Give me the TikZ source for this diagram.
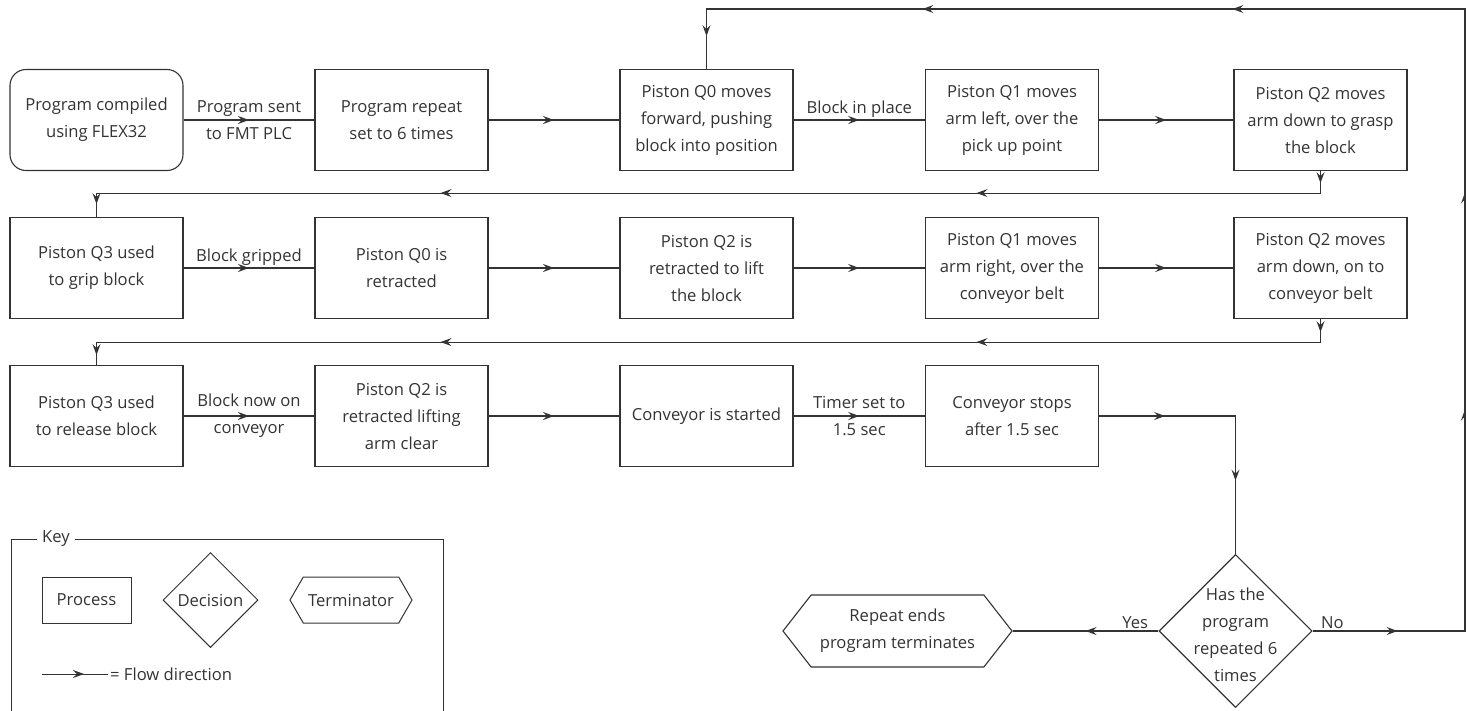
\documentclass[tikz,border=0pt]{standalone}
\usepackage{fontspec}
\setmainfont{Open Sans}
\usetikzlibrary{arrows.meta,positioning,shapes.geometric,shapes.symbols,decorations.markings}
\definecolor{flowgray}{HTML}{333333}
\newcommand{\flowfont}{\fontsize{16.6}{27}\selectfont}
\tikzset{
  flowtip/.tip={Stealth[length=11pt,width=8pt,inset=4pt]},
  flowline/.style={draw=flowgray, line width=1.1pt},
  tipat/.style={postaction={decorate, decoration={markings, mark=at position #1 with {\arrow{flowtip}}}}},
  process/.style={draw=flowgray, line width=1.1pt, minimum width=173pt, minimum height=101pt, inner sep=0pt, align=center, font=\flowfont, text=flowgray},
  startbox/.style={process, rounded corners=16pt},
  decision/.style={draw=flowgray, line width=1.1pt, diamond, aspect=1, minimum size=153pt, inner sep=0pt, align=center, font=\flowfont, text=flowgray},
  terminator/.style={draw=flowgray, line width=1.1pt, signal, signal to=west and east, signal pointer angle=104, minimum width=229pt, minimum height=72pt, inner sep=0pt, align=center, font=\flowfont, text=flowgray},
  edgetext/.style={font=\flowfont, text=flowgray, align=center, inner sep=2pt},
  keyframe/.style={draw=flowgray, line width=1pt}
}
\begin{document}
\begin{tikzpicture}[x=1pt, y=-1pt]
  \useasboundingbox (0,0) rectangle (1466,710);
  % first row
  \node[startbox] (compile) at (96.5,120) {Program compiled\\using FLEX32};
  \node[process] (repeatsix) at (401.5,120) {Program repeat\\set to 6 times};
  \node[process] (pushq0) at (706.5,120) {Piston Q0 moves\\forward, pushing\\block into position};
  \node[process] (leftq1) at (1012,120) {Piston Q1 moves\\arm left, over the\\pick up point};
  \node[process] (graspq2) at (1320.5,120) {Piston Q2 moves\\arm down to grasp\\the block};
  % second row
  \node[process] (gripq3) at (96.5,268) {Piston Q3 used\\to grip block};
  \node[process] (retractq0) at (401.5,268) {Piston Q0 is\\retracted};
  \node[process] (liftq2) at (706.5,268) {Piston Q2 is\\retracted to lift\\the block};
  \node[process] (rightq1) at (1012,268) {Piston Q1 moves\\arm right, over the\\conveyor belt};
  \node[process] (lowerq2) at (1320.5,268) {Piston Q2 moves\\arm down, on to\\conveyor belt};
  % third row
  \node[process] (releaseq3) at (96.5,416) {Piston Q3 used\\to release block};
  \node[process] (clearq2) at (401.5,416) {Piston Q2 is\\retracted lifting\\arm clear};
  \node[process] (convstart) at (706.5,416) {Conveyor is started};
  \node[process] (convstop) at (1012,416) {Conveyor stops\\after 1.5 sec};
  % decision and end
  \node[decision] (repeated) at (1235.5,631) {};
  \node[edgetext] (repeatedtext) at (1235.5,635) {Has the\\program\\repeated 6\\times};
  \node[terminator] (progend) at (897.5,631) {Repeat ends\\program terminates};
  \coordinate (loopbr) at (1465,631);
  \coordinate (looptr) at (1465,9);

  \draw[flowline, tipat=0.5] (compile) -- node[edgetext] {Program sent\\to FMT PLC} (repeatsix);
  \draw[flowline, tipat=0.5] (repeatsix) -- (pushq0);
  \draw[flowline, tipat=0.5] (pushq0) -- node[edgetext, above] {Block in place} (leftq1);
  \draw[flowline, tipat=0.5] (leftq1) -- (graspq2);
  \draw[flowline, tipat=12pt, tipat=366pt, tipat=902pt, tipat=1257pt] (graspq2.south) -- ++(0,22) -| (gripq3.north);
  \draw[flowline, tipat=0.5] (gripq3) -- node[edgetext, above] {Block gripped} (retractq0);
  \draw[flowline, tipat=0.5] (retractq0) -- (liftq2);
  \draw[flowline, tipat=0.5] (liftq2) -- (rightq1);
  \draw[flowline, tipat=0.5] (rightq1) -- (lowerq2);
  \draw[flowline, tipat=13pt, tipat=367pt, tipat=903pt, tipat=1260pt] (lowerq2.south) -- ++(0,23) -| (releaseq3.north);
  \draw[flowline, tipat=0.5] (releaseq3) -- node[edgetext] {Block now on\\conveyor} (clearq2);
  \draw[flowline, tipat=0.5] (clearq2) -- (convstart);
  \draw[flowline, tipat=0.5] (convstart) -- node[edgetext] {Timer set to\\1.5 sec} (convstop);
  \draw[flowline, tipat=66pt, tipat=201pt] (convstop.east) -| (repeated.north);
  \draw[flowline, tipat=0.5] (repeated.west) -- node[edgetext, pos=0.16, above] {Yes} (progend.east);
  \draw[flowline, tipat=85pt, tipat=374pt, tipat=591pt, tipat=1007pt, tipat=1317pt, tipat=1560pt]
    (repeated.east) -- node[edgetext, pos=0.13, above] {No} (loopbr) -- (looptr) -| (pushq0.north);

  % key
  \draw[keyframe] (11,539) rectangle (443,725);
  \node[edgetext, fill=white, inner sep=5pt] (keytitle) at (56,539) {Key};
  \node[process, line width=1pt, minimum width=89pt, minimum height=46pt] (keyprocess) at (86.5,600) {Process};
  \node[decision, line width=1pt, minimum size=95pt] (keydecision) at (210.5,600) {Decision};
  \node[terminator, line width=1pt, signal pointer angle=120, minimum width=122pt, minimum height=46pt] (keyterminator) at (351,600) {Terminator};
  \coordinate (keyflow) at (42,674);
  \node[edgetext, anchor=west] (keyflowtext) at (108,674) {= Flow direction};
  \draw[flowline, line width=1pt, tipat=42pt] (keyflow) -- (keyflowtext.west);
\end{tikzpicture}
\end{document}
